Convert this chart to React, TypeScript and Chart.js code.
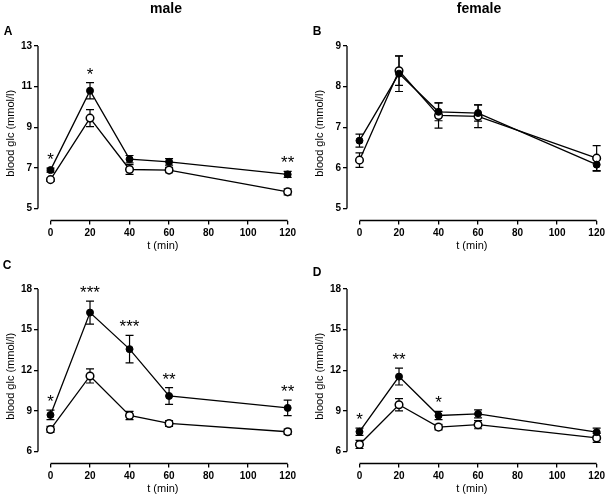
import React, { useEffect, useRef } from "react";
import { Chart, registerables } from "chart.js";
Chart.register(...registerables);

const FONT = "'Liberation Sans', Arial, Helvetica, sans-serif";
Chart.defaults.font.family = FONT;
Chart.defaults.color = "#000";

// ---------- data ----------
const timePoints = [0, 20, 40, 60, 120];
const xTickValues = [0, 20, 40, 60, 80, 100, 120];

// A – male
const yTicksA = [5, 7, 9, 11, 13];
const filledA = [6.89, 10.8, 7.43, 7.3, 6.68];
const filledErrA = [0.1, 0.4, 0.18, 0.16, 0.15];
const openA = [6.42, 9.45, 6.92, 6.89, 5.82];
const openErrA = [0.08, 0.42, 0.24, 0.13, 0.15];
const starsA = ["*", "*", "", "", "**"];

// B – female
const yTicksB = [5, 6, 7, 8, 9];
const filledB = [6.67, 8.32, 7.38, 7.35, 6.08];
const filledErrB = [0.16, 0.44, 0.22, 0.2, 0.16];
const openB = [6.19, 8.39, 7.29, 7.27, 6.24];
const openErrB = [0.18, 0.36, 0.31, 0.28, 0.31];
const starsB = ["", "", "", "", ""];

// C – male
const yTicksC = [6, 9, 12, 15, 18];
const filledC = [8.7, 16.26, 13.56, 10.1, 9.22];
const filledErrC = [0.35, 0.85, 1.02, 0.62, 0.57];
const openC = [7.63, 11.58, 8.66, 8.07, 7.46];
const openErrC = [0.22, 0.52, 0.3, 0.22, 0.2];
const starsC = ["*", "***", "***", "**", "**"];

// D – female
const yTicksD = [6, 9, 12, 15, 18];
const filledD = [7.46, 11.53, 8.66, 8.78, 7.43];
const filledErrD = [0.27, 0.62, 0.3, 0.3, 0.3];
const openD = [6.52, 9.45, 7.8, 7.98, 7.0];
const openErrD = [0.3, 0.45, 0.2, 0.3, 0.33];
const starsD = ["*", "**", "*", "", ""];

// ---------- layout ----------
const CW = 299;
const CH = 254;
const PLOT_LEFT = 38;
const PLOT_RIGHT = 288;
const PLOT_TOP = 46;
const AXIS_Y = 220.5;
const GAP_Y = 12;
const GAP_X = 12.5;

type PanelCfg = {
  yTicks: number[];
  filled: number[];
  filledErr: number[];
  open: number[];
  openErr: number[];
  stars: string[];
  left: number;
  top: number;
};

const panels: PanelCfg[] = [
  { yTicks: yTicksA, filled: filledA, filledErr: filledErrA, open: openA, openErr: openErrA, stars: starsA, left: 0, top: 0 },
  { yTicks: yTicksB, filled: filledB, filledErr: filledErrB, open: openB, openErr: openErrB, stars: starsB, left: 309, top: 0 },
  { yTicks: yTicksC, filled: filledC, filledErr: filledErrC, open: openC, openErr: openErrC, stars: starsC, left: 0, top: 243 },
  { yTicks: yTicksD, filled: filledD, filledErr: filledErrD, open: openD, openErr: openErrD, stars: starsD, left: 309, top: 243 },
];

function Panel({ p }: { p: PanelCfg }) {
  const ref = useRef<HTMLCanvasElement>(null);
  useEffect(() => {
    const canvas = ref.current!;
    const lo = p.yTicks[0];
    const hi = p.yTicks[p.yTicks.length - 1];
    const plotH = AXIS_Y - PLOT_TOP;
    const yMin = lo - ((hi - lo) * GAP_Y) / (plotH - GAP_Y);
    const plotW = PLOT_RIGHT - PLOT_LEFT;
    const xMin = (-120 * GAP_X) / (plotW - GAP_X);
    const series = [
      { vals: p.filled, err: p.filledErr },
      { vals: p.open, err: p.openErr },
    ];

    const decor = {
      id: "decor",
      beforeDatasetsDraw(chart: any) {
        const { ctx, chartArea } = chart;
        const xs = chart.scales.x;
        const ys = chart.scales.y;
        ctx.save();
        ctx.strokeStyle = "#000";
        ctx.lineWidth = 1.3;
        // axis lines (detached, Prism style)
        ctx.beginPath();
        ctx.moveTo(chartArea.left, ys.getPixelForValue(lo));
        ctx.lineTo(chartArea.left, ys.getPixelForValue(hi));
        ctx.moveTo(xs.getPixelForValue(0), chartArea.bottom);
        ctx.lineTo(xs.getPixelForValue(120), chartArea.bottom);
        ctx.stroke();
        // error bars
        ctx.lineWidth = 1.2;
        series.forEach((s, di) => {
          const meta = chart.getDatasetMeta(di);
          s.vals.forEach((v, j) => {
            const x = meta.data[j].x;
            const t = ys.getPixelForValue(v + s.err[j]);
            const b = ys.getPixelForValue(v - s.err[j]);
            ctx.beginPath();
            ctx.moveTo(x, t);
            ctx.lineTo(x, b);
            ctx.moveTo(x - 4, t);
            ctx.lineTo(x + 4, t);
            ctx.moveTo(x - 4, b);
            ctx.lineTo(x + 4, b);
            ctx.stroke();
          });
        });
        ctx.restore();
      },
      afterDatasetsDraw(chart: any) {
        const { ctx } = chart;
        const xs = chart.scales.x;
        const ys = chart.scales.y;
        ctx.save();
        ctx.fillStyle = "#000";
        ctx.font = `17px ${FONT}`;
        ctx.textAlign = "center";
        ctx.textBaseline = "alphabetic";
        p.stars.forEach((s, j) => {
          if (!s) return;
          const top = Math.max(p.filled[j] + p.filledErr[j], p.open[j] + p.openErr[j]);
          const x = xs.getPixelForValue(timePoints[j]);
          const y = ys.getPixelForValue(top) - 3;
          ctx.fillText(s, x, y);
        });
        ctx.restore();
      },
    };

    const tickFont = { size: 10, weight: "bold" as const, family: FONT };
    const chart = new Chart(canvas, {
      type: "line",
      data: {
        datasets: [
          {
            label: "filled",
            data: timePoints.map((t, i) => ({ x: t, y: p.filled[i] })),
            borderColor: "#000",
            borderWidth: 1.3,
            pointRadius: 3.5,
            pointBackgroundColor: "#000",
            pointBorderColor: "#000",
            pointBorderWidth: 1,
            fill: false,
            tension: 0,
            clip: false as any,
          },
          {
            label: "open",
            data: timePoints.map((t, i) => ({ x: t, y: p.open[i] })),
            borderColor: "#000",
            borderWidth: 1.3,
            pointRadius: 3.8,
            pointBackgroundColor: "#fff",
            pointBorderColor: "#000",
            pointBorderWidth: 1.5,
            fill: false,
            tension: 0,
            clip: false as any,
          },
        ],
      },
      options: {
        responsive: false,
        animation: false,
        events: [],
        layout: { padding: { left: 0, top: PLOT_TOP, right: CW - PLOT_RIGHT, bottom: 0 } },
        plugins: { legend: { display: false }, tooltip: { enabled: false }, title: { display: false } },
        scales: {
          x: {
            type: "linear",
            min: xMin,
            max: 120,
            afterBuildTicks: (s: any) => {
              s.ticks = xTickValues.map((v) => ({ value: v }));
            },
            afterFit: (s: any) => {
              s.height = CH - AXIS_Y;
            },
            border: { display: false },
            grid: { display: true, drawOnChartArea: false, drawTicks: true, tickLength: 4, color: "#000", lineWidth: 1.3 },
            ticks: { font: tickFont, color: "#000", padding: 3, maxRotation: 0, autoSkip: false },
            title: { display: true, text: "t (min)", font: { size: 11, family: FONT }, color: "#000", padding: { top: 0, bottom: 1.5 } },
          },
          y: {
            type: "linear",
            min: yMin,
            max: hi,
            afterBuildTicks: (s: any) => {
              s.ticks = p.yTicks.map((v) => ({ value: v }));
            },
            afterFit: (s: any) => {
              s.width = PLOT_LEFT;
            },
            border: { display: false },
            grid: { display: true, drawOnChartArea: false, drawTicks: true, tickLength: 4, color: "#000", lineWidth: 1.3 },
            ticks: { font: tickFont, color: "#000", padding: 2 },
            title: { display: true, text: "blood glc (mmol/l)", font: { size: 11, family: FONT }, color: "#000", padding: { top: 4.4, bottom: 0 } },
          },
        },
      },
      plugins: [decor],
    } as any);
    return () => chart.destroy();
  }, []);
  return (
    <canvas
      ref={ref}
      width={CW}
      height={CH}
      style={{ position: "absolute", left: p.left, top: p.top, width: CW, height: CH }}
    />
  );
}

const labelStyle = (left: number, top: number, size: number): React.CSSProperties => ({
  position: "absolute",
  left,
  top,
  transform: "translate(-50%, -50%)",
  font: `bold ${size}px ${FONT}`,
  color: "#000",
  whiteSpace: "nowrap",
  lineHeight: 1,
});

export default function App() {
  return (
    <div
      style={{
        position: "fixed",
        left: 0,
        top: 0,
        width: 608,
        height: 497,
        background: "#fff",
        overflow: "hidden",
      }}
    >
      {panels.map((p, i) => (
        <Panel key={i} p={p} />
      ))}
      <div style={labelStyle(166, 8, 14)}>male</div>
      <div style={labelStyle(479, 8, 14)}>female</div>
      <div style={labelStyle(8, 31, 12)}>A</div>
      <div style={labelStyle(317, 31, 12)}>B</div>
      <div style={labelStyle(7, 265, 12)}>C</div>
      <div style={labelStyle(317, 272, 12)}>D</div>
    </div>
  );
}
